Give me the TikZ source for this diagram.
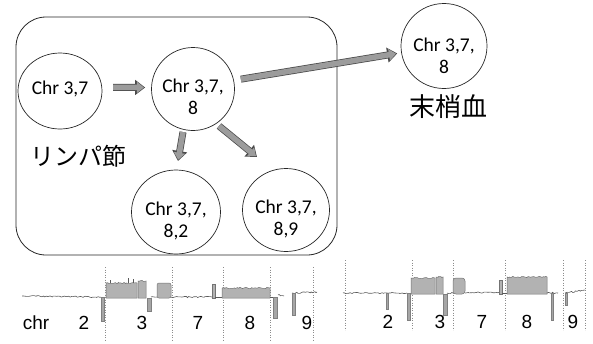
\documentclass[tikz,border=0pt]{standalone}
\usepackage{fontspec}
\setmainfont{Carlito}
\newfontfamily\jpfont{Noto Sans CJK JP}
\newfontfamily\arialfont{Liberation Sans}
\usetikzlibrary{shapes.geometric,arrows.meta,decorations.pathmorphing}
\definecolor{arrowfill}{HTML}{9C9C9C}
\definecolor{arrowedge}{HTML}{4A4A4A}
\begin{document}
\begin{tikzpicture}[x=1pt,y=-1pt,
  cell/.style={draw=black!85, line width=0.7pt, ellipse, inner sep=0pt},
  celltext/.style={font=\fontsize{19.5}{22.5}\selectfont, align=center, inner sep=0pt},
  bigarrow/.style={line width=5.5pt, draw=arrowfill,
     -{Triangle[length=7pt,width=11pt,sep=1.3pt]},
     preaction={draw=arrowedge, line width=7pt, -{Triangle[length=10pt,width=14.5pt]}}},
  jplabel/.style={font=\jpfont\fontsize{24}{26}\selectfont},
  chrlabel/.style={font=\arialfont\fontsize{19}{21}\selectfont, anchor=base},
  noisy/.style={decorate, decoration={random steps, segment length=1.5pt, amplitude=0.7pt}},
  trace/.style={draw=black!65, line width=0.6pt},
  gain/.style={fill=black!30, draw=black!55, line width=0.5pt},
  dip/.style={fill=black!35, draw=black!50, line width=0.4pt},
  sep/.style={draw=black!45, dotted, line width=0.5pt}]
\useasboundingbox (0,0) rectangle (593,343);
\pgfmathsetseed{11}
% lymph node box
\draw[black!85, line width=0.8pt, rounded corners=30pt] (16,17) rectangle (337,255);
% clones
\node[cell, minimum width=84pt, minimum height=76pt,
      label={[celltext, yshift=2pt]center:Chr 3,7}] (c1) at (60,91) {};
\node[cell, minimum width=83pt, minimum height=83pt,
      label={[celltext, yshift=-8pt]center:Chr 3,7,\\8}] (c2) at (193,89) {};
\node[cell, minimum width=89pt, minimum height=84pt,
      label={[celltext, yshift=-9pt]center:Chr 3,7,\\8,2}] (c3) at (176,212) {};
\node[cell, minimum width=87pt, minimum height=83pt,
      label={[celltext, yshift=-9pt]center:Chr 3,7,\\8,9}] (c4) at (286,210) {};
\node[cell, minimum width=86pt, minimum height=85pt,
      label={[celltext, yshift=-10pt]center:Chr 3,7,\\8}] (c5) at (444,46) {};
% labels
\node[jplabel] (ln) at (78,156) {リンパ節};
\node[jplabel, font=\jpfont\fontsize{26}{28}\selectfont] (pb) at (448,107) {末梢血};
% arrows
\coordinate (a3s) at (183,132);
\coordinate (a3e) at (178,161);
\coordinate (a4s) at (219,126);
\coordinate (a4e) at (257,157);
\draw[bigarrow, shorten <=11pt, shorten >=6pt] (c1.5) -- (c2.178);
\draw[bigarrow, shorten <=7pt, shorten >=4pt] (c2.12) -- (c5.189);
\draw[bigarrow] (a3s) -- (a3e);
\draw[bigarrow] (a4s) -- (a4e);
% ---- left CNV plot ----
\foreach \x in {105,172,223,270,313} \draw[sep] (\x,267) -- (\x,340);
\draw[trace,noisy] (22,296) -- (101,297);
\filldraw[dip] (101,297) rectangle (104,321);
\filldraw[gain] (106,298) -- (106,283) decorate[noisy]{-- (137,283)} -- (137,298) -- cycle;
\draw[trace] (110,283) -- (110,280) (128,283) -- (128,278) (133,283) -- (133,279);
\filldraw[gain] (138,298) -- (138,281) decorate[noisy]{-- (146,281)} -- (146,298) -- cycle;
\filldraw[dip] (147,298) rectangle (151,311);
\draw[trace,noisy] (151,297) -- (157,297);
\filldraw[gain, rounded corners=2pt] (157,298) -- (157,283) -- (171,283) -- (171,298) -- cycle;
\draw[trace,noisy] (171,297) -- (212,297);
\filldraw[gain] (212,284) rectangle (215,298);
\draw[trace] (215,297) -- (222,297);
\filldraw[gain] (222,298) -- (222,288) decorate[noisy]{-- (270,288)} -- (270,298) -- cycle;
\draw[trace] (270,297) -- (273,297);
\filldraw[dip] (273,297) rectangle (277,318);
\draw[trace,noisy] (278,295) -- (284,296);
\draw[trace,noisy] (292,293) -- (317,292);
\filldraw[dip] (292,293) rectangle (295,315);
\node[chrlabel] (lchr) at (36,329) {chr};
\node[chrlabel] (l2) at (84,329) {2};
\node[chrlabel] (l3) at (142,329) {3};
\node[chrlabel] (l7) at (198,329) {7};
\node[chrlabel] (l8) at (250,329) {8};
\node[chrlabel] (l9) at (307,329) {9};
% ---- right CNV plot ----
\foreach \x in {345,412,453,505,563,585} \draw[sep] (\x,260) -- (\x,330);
\draw[trace,noisy] (343,293) -- (407,293);
\filldraw[dip] (386,293) rectangle (388,309);
\filldraw[dip] (407,293) rectangle (410,320);
\filldraw[gain] (411,294) -- (411,278) decorate[noisy]{-- (435,278)} -- (435,294) -- cycle;
\filldraw[gain] (436,294) -- (436,277) decorate[noisy]{-- (443,277)} -- (443,294) -- cycle;
\filldraw[dip] (443,294) rectangle (447,315);
\draw[trace,noisy] (447,293) -- (453,293);
\filldraw[gain, rounded corners=3pt] (453,294) -- (453,278) -- (465,278) -- (465,294) -- cycle;
\draw[trace,noisy] (465,293) -- (500,292);
\filldraw[gain] (499,280) rectangle (502,294);
\draw[trace] (502,293) -- (507,293);
\filldraw[gain] (507,294) -- (507,277) decorate[noisy]{-- (547,277)} -- (547,294) -- cycle;
\draw[trace,noisy] (547,293) -- (558,293);
\filldraw[dip] (551,293) rectangle (553,320);
\draw[trace,noisy] (565,293) -- (585,290);
\filldraw[dip] (565,293) rectangle (567,305);
\node[chrlabel] (r2) at (388,328) {2};
\node[chrlabel] (r3) at (440,328) {3};
\node[chrlabel] (r7) at (482,328) {7};
\node[chrlabel] (r8) at (527,328) {8};
\node[chrlabel] (r9) at (573,328) {9};
\end{tikzpicture}
\end{document}
